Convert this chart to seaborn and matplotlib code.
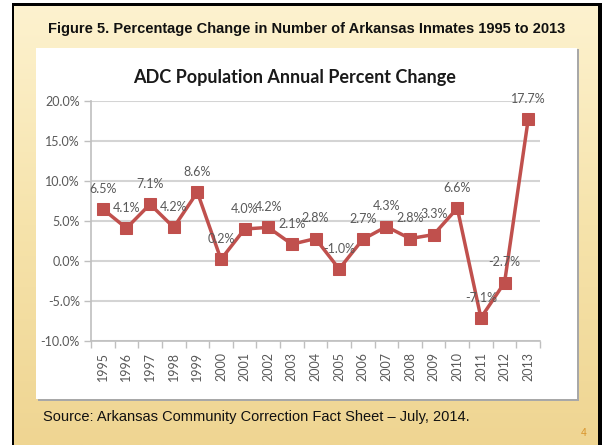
import numpy as np
import matplotlib
matplotlib.use("Agg")
import matplotlib.pyplot as plt
import seaborn as sns
from matplotlib.patches import Rectangle
from matplotlib.colors import LinearSegmentedColormap

years = [str(y) for y in range(1995, 2014)]
pct_change = [6.5, 4.1, 7.1, 4.2, 8.6, 0.2, 4.0, 4.2, 2.1, 2.8, -1.0,
              2.7, 4.3, 2.8, 3.3, 6.6, -7.1, -2.7, 17.7]
y_ticks = [-10, -5, 0, 5, 10, 15, 20]

slide_title = "Figure 5. Percentage Change in Number of Arkansas Inmates 1995 to 2013"
chart_title = "ADC Population Annual Percent Change"
source_text = "Source: Arkansas Community Correction Fact Sheet \u2013 July, 2014."

sns.set_theme(style="white")
plt.rcParams['font.family'] = ['Lato', 'DejaVu Sans']

W, H = 602, 445
fig = plt.figure(figsize=(W / 100, H / 100), dpi=100)
fig.patch.set_facecolor("white")

def fx(px):
    return px / W

def fy(py):
    return 1 - py / H

# slide background gradient
bg = fig.add_axes([fx(13), 0, fx(599) - fx(13), fy(5)])
grad = np.linspace(0, 1, 256).reshape(-1, 1)
cmap = LinearSegmentedColormap.from_list("slide", ["#fdf2cf", "#f6e3ab", "#efd592"])
bg.imshow(grad, aspect="auto", cmap=cmap, extent=[0, 1, 0, 1], origin="upper")
bg.set_axis_off()

# black frame
fig.patches.append(Rectangle((fx(12), 0), fx(2), fy(5), transform=fig.transFigure,
                             facecolor="black", edgecolor="none", zorder=5))
fig.patches.append(Rectangle((fx(598), 0), fx(4), fy(5), transform=fig.transFigure,
                             facecolor="black", edgecolor="none", zorder=5))
fig.patches.append(Rectangle((fx(12), fy(6)), fx(590), fy(3) - fy(6), transform=fig.transFigure,
                             facecolor="black", edgecolor="none", zorder=5))

# chart box shadow + white box
fig.patches.append(Rectangle((fx(38), fy(401)), fx(579) - fx(38), fy(49) - fy(401),
                             transform=fig.transFigure, facecolor="#a8a8a8",
                             edgecolor="none", zorder=2))
fig.patches.append(Rectangle((fx(36), fy(399)), fx(577) - fx(36), fy(48) - fy(399),
                             transform=fig.transFigure, facecolor="white",
                             edgecolor="none", zorder=3))

fig.text(fx(307), fy(29), slide_title, ha="center", va="center", fontsize=10.5,
         fontweight="bold", family=["Liberation Sans", "DejaVu Sans"], color="#111111", zorder=6)
fig.text(fx(43), fy(417), source_text, ha="left", va="center", fontsize=10.5,
         family=["Liberation Sans", "DejaVu Sans"], color="#111111", zorder=6)
fig.text(fx(584), fy(433), "4", ha="center", va="center", fontsize=7.5,
         family=["Liberation Sans", "DejaVu Sans"], color="#d9952b", zorder=6)
fig.text(fx(295), fy(78), chart_title, ha="center", va="center", fontsize=13,
         fontweight="bold", color="#1a1a1a", zorder=6)

ax = fig.add_axes([fx(91), fy(341), fx(540) - fx(91), fy(101) - fy(341)])
ax.set_zorder(10)
ax.patch.set_alpha(0)
idx = np.arange(len(years))
for t in y_ticks:
    ax.axhline(t, color="#d4d4d4", lw=1.5, zorder=1)
sns.lineplot(x=idx, y=pct_change, ax=ax, color="#c0504d", lw=2.5, marker="s",
             markersize=9, markeredgecolor="#c0504d", zorder=3)
for i, v in zip(idx, pct_change):
    ax.annotate(f"{v:.1f}%", (i, v), xytext=(0, 14.5), textcoords="offset points",
                ha="center", va="center", fontsize=9, color="#595959", zorder=4)

ax.set_xlim(-0.5, len(years) - 0.5)
ax.set_ylim(-10, 20)
ax.set_yticks(y_ticks)
ax.set_yticklabels([f"{t:.1f}%" for t in y_ticks], fontsize=9, color="#595959")
ax.set_xticks(idx)
ax.set_xticklabels(years, rotation=90, fontsize=9, color="#595959")
ax.set_xticks(np.arange(-0.5, len(years)), minor=True)
ax.tick_params(axis="x", which="major", length=0, pad=8)
ax.tick_params(axis="x", which="minor", length=5, width=1, color="#bfbfbf", direction="out", bottom=True)
ax.tick_params(axis="y", length=5, width=1, color="#bfbfbf", direction="out", left=True, pad=3)
for s in ["top", "right"]:
    ax.spines[s].set_visible(False)
ax.spines["left"].set_color("#bfbfbf")
ax.spines["bottom"].set_color("#bfbfbf")
ax.spines["left"].set_linewidth(1.2)
ax.spines["bottom"].set_linewidth(1.2)
ax.set_xlabel("")
ax.set_ylabel("")

fig.savefig("out.png", dpi=100)
